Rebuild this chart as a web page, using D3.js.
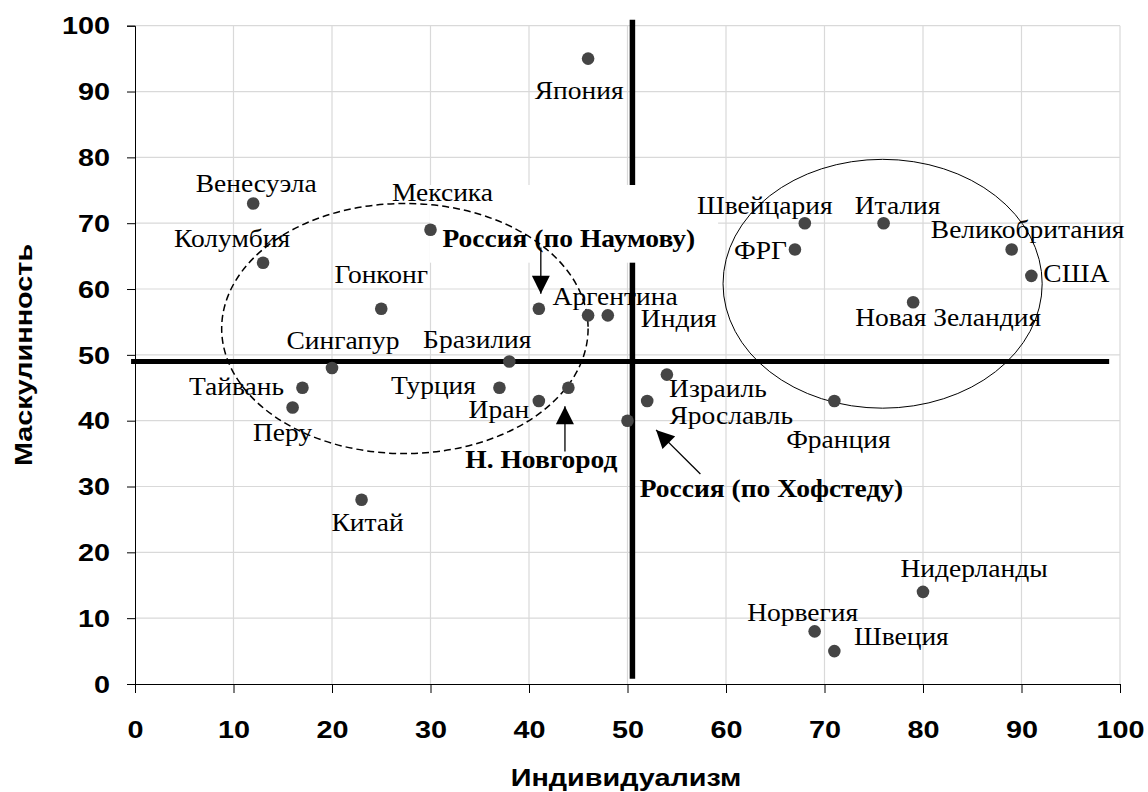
<!DOCTYPE html>
<html>
<head>
<meta charset="utf-8">
<script src="https://cdn.jsdelivr.net/npm/d3@7/dist/d3.min.js"></script>
<style>
body { margin: 0; background: #fff; }
</style>
</head>
<body>
<svg width="1148" height="792"></svg>
<script>
// data
var countries = ["Япония", "Венесуэла", "Колумбия", "Мексика", "Гонконг", "Аргентина", "Индия",
	"Бразилия", "Сингапур", "Тайвань", "Перу", "Китай", "Турция", "Иран", "Израиль", "Ярославль",
	"Франция", "Швейцария", "Италия", "ФРГ", "Великобритания", "США", "Новая Зеландия",
	"Нидерланды", "Норвегия", "Швеция", "Россия (по Наумову)", "Н. Новгород", "Россия (по Хофстеду)"];
var individualism = [46, 12, 13, 30, 25, 46, 48, 38, 20, 17, 16, 23, 37, 41, 54, 52,
	71, 68, 76, 67, 89, 91, 79, 80, 69, 71, 41, 44, 50];
var masculinity = [95, 73, 64, 69, 57, 56, 56, 49, 48, 45, 42, 28, 45, 43, 47, 43,
	43, 70, 70, 66, 66, 62, 58, 14, 8, 5, 57, 45, 40];
var xTicks = [0, 10, 20, 30, 40, 50, 60, 70, 80, 90, 100];
var yTicks = [0, 10, 20, 30, 40, 50, 60, 70, 80, 90, 100];
var xTitle = "Индивидуализм";
var yTitle = "Маскулинность";
var boldNames = ["Россия (по Наумову)", "Н. Новгород", "Россия (по Хофстеду)"];

// layout: label offsets in px from the dot [dx, dy(baseline), anchor]
var labelOffset = {
	"Япония": [-9, 40, "middle"], "Венесуэла": [3, -11, "middle"], "Колумбия": [-31, -16, "middle"],
	"Мексика": [12, -29, "middle"], "Гонконг": [0, -26, "middle"], "Аргентина": [27, -10, "middle"],
	"Индия": [71, 12, "middle"], "Бразилия": [-32, -13, "middle"], "Сингапур": [11, -19, "middle"],
	"Тайвань": [-66, 7, "middle"], "Перу": [-10, 33, "middle"], "Китай": [6, 31, "middle"],
	"Турция": [-66, 6, "middle"], "Иран": [-40, 17, "middle"], "Израиль": [51, 22, "middle"],
	"Ярославль": [84, 23, "middle"], "Франция": [4, 47, "middle"], "Швейцария": [-40, -9, "middle"],
	"Италия": [14, -9, "middle"], "ФРГ": [-8, 9, "end"], "Великобритания": [16, -12, "middle"],
	"США": [12, 6, "start"], "Новая Зеландия": [35, 24, "middle"], "Нидерланды": [51, -15, "middle"],
	"Норвегия": [-12, -10, "middle"], "Швеция": [67, -6, "middle"],
	"Россия (по Наумову)": [30, -62, "middle"], "Н. Новгород": [-27, 80, "middle"],
	"Россия (по Хофстеду)": [144, 76, "middle"]
};
var splitX = 50.5, splitY = 49;
var clusters = [
	{cx: 27.4, cy: 54, rx: 18.6, ry: 19, dash: "7,4", w: 1.5},
	{cx: 75.9, cy: 60.8, rx: 16.2, ry: 18.9, dash: null, w: 1}
];
var arrows = [[41.2, 66.3, 41.2, 59.3], [43.65, 35.3, 43.65, 42.2], [57.4, 31.9, 52.9, 38.6]];
var noteBox = [29.95, 75.8, 59.2, 64.0];

var SERIF_X = 1.1, SANS_X = 1.2;

var svg = d3.select("svg");
var x = d3.scaleLinear().domain([0, 100]).range([135, 1120]);
var y = d3.scaleLinear().domain([0, 100]).range([684, 25.7]);

var points = countries.map(function (c, i) {
	return {name: c, x: individualism[i], y: masculinity[i]};
});

// grid
var grid = svg.append("g").style("stroke", "#d9d9d9").style("stroke-width", 1.2);
grid.selectAll(".gx").data(xTicks.slice(1)).enter().append("line")
	.attr("x1", d => x(d)).attr("x2", d => x(d)).attr("y1", y(0)).attr("y2", y(100));
grid.selectAll(".gy").data(yTicks.slice(1)).enter().append("line")
	.attr("x1", x(0)).attr("x2", x(100)).attr("y1", d => y(d)).attr("y2", d => y(d));

// axes
var gx = svg.append("g").attr("transform", "translate(0," + y(0) + ")")
	.call(d3.axisBottom(x).tickValues(xTicks).tickSize(9).tickFormat(d3.format("d")));
var gy = svg.append("g").attr("transform", "translate(" + x(0) + ",0)")
	.call(d3.axisLeft(y).tickValues(yTicks).tickSize(8).tickFormat(d3.format("d")));
[gx, gy].forEach(function (g) {
	g.attr("font-family", "'Liberation Sans', Arial, sans-serif").attr("font-size", 24).attr("font-weight", "bold");
	g.selectAll("path, line").style("stroke", "#000");
	g.selectAll("text").style("fill", "#000");
});
gx.selectAll("text").attr("y", 0).attr("dy", 0).attr("transform", "translate(0,54) scale(" + SANS_X + ",1)");
gy.selectAll("text").attr("x", 0).attr("dy", "0.34em").attr("transform", "translate(-25,0) scale(" + SANS_X + ",1)");

svg.append("text").text(xTitle)
	.attr("transform", "translate(626,786) scale(" + SANS_X + ",1)")
	.attr("text-anchor", "middle").attr("font-family", "'Liberation Sans', Arial, sans-serif")
	.attr("font-size", 24).attr("font-weight", "bold");
svg.append("text").text(yTitle)
	.attr("transform", "translate(32,355) rotate(-90) scale(" + SANS_X + ",1)")
	.attr("text-anchor", "middle").attr("font-family", "'Liberation Sans', Arial, sans-serif")
	.attr("font-size", 24).attr("font-weight", "bold");

// quadrant lines
svg.append("line").attr("x1", x(-0.4)).attr("x2", x(98.9)).attr("y1", y(splitY)).attr("y2", y(splitY))
	.style("stroke", "#000").style("stroke-width", 5);
svg.append("line").attr("x1", x(splitX)).attr("x2", x(splitX)).attr("y1", y(0.8)).attr("y2", y(100.9))
	.style("stroke", "#000").style("stroke-width", 5.5);

// white box behind the Naumov note
svg.append("rect").attr("x", x(noteBox[0])).attr("y", y(noteBox[1]))
	.attr("width", x(noteBox[2]) - x(noteBox[0])).attr("height", y(noteBox[3]) - y(noteBox[1]))
	.style("fill", "#fff");

// cluster ellipses
svg.selectAll(".cl").data(clusters).enter().append("ellipse")
	.attr("cx", d => x(d.cx)).attr("cy", d => y(d.cy))
	.attr("rx", d => x(d.cx + d.rx) - x(d.cx)).attr("ry", d => y(d.cy - d.ry) - y(d.cy))
	.style("fill", "none").style("stroke", "#000").style("stroke-width", d => d.w)
	.style("stroke-dasharray", d => d.dash);

// arrows
svg.append("defs").append("marker").attr("id", "head")
	.attr("viewBox", "0 0 10 10").attr("refX", 10).attr("refY", 5)
	.attr("markerWidth", 20).attr("markerHeight", 18).attr("markerUnits", "userSpaceOnUse")
	.attr("orient", "auto")
	.append("path").attr("d", "M0,0L10,5L0,10Z").style("fill", "#000");
svg.selectAll(".ar").data(arrows).enter().append("line")
	.attr("x1", d => x(d[0])).attr("y1", d => y(d[1])).attr("x2", d => x(d[2])).attr("y2", d => y(d[3]))
	.style("stroke", "#000").style("stroke-width", 1.3).attr("marker-end", "url(#head)");

// labels
svg.selectAll(".lbl").data(points).enter().append("text")
	.text(d => d.name)
	.attr("transform", function (d) {
		var o = labelOffset[d.name];
		return "translate(" + (x(d.x) + o[0]) + "," + (y(d.y) + o[1]) + ") scale(" + SERIF_X + ",1)";
	})
	.attr("text-anchor", d => labelOffset[d.name][2])
	.attr("font-family", "'Liberation Serif', 'Times New Roman', serif")
	.attr("font-size", 25)
	.attr("font-weight", d => boldNames.indexOf(d.name) >= 0 ? "bold" : "normal")
	.style("fill", "#000");

// dots
svg.selectAll(".dot").data(points).enter().append("circle")
	.attr("cx", d => x(d.x)).attr("cy", d => y(d.y)).attr("r", 6.3)
	.style("fill", "#454545");
</script>
</body>
</html>
